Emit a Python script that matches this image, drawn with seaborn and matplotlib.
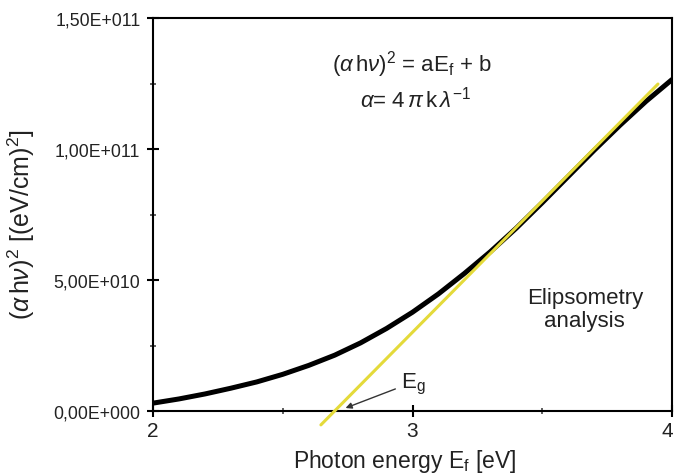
import matplotlib
matplotlib.use("Agg")
import matplotlib.pyplot as plt
import matplotlib.transforms as mtransforms
import seaborn as sns
import pandas as pd

# ---- data ----
energy = [2.0, 2.1, 2.2, 2.3, 2.4, 2.5, 2.6, 2.7, 2.8, 2.9, 3.0,
          3.1, 3.2, 3.3, 3.4, 3.5, 3.6, 3.7, 3.8, 3.9, 4.0]
absorb = [3.0e9, 4.6e9, 6.5e9, 8.7e9, 1.11e10, 1.40e10, 1.74e10, 2.13e10, 2.60e10,
          3.15e10, 3.77e10, 4.47e10, 5.25e10, 6.08e10, 6.98e10, 7.95e10, 8.95e10,
          9.95e10, 1.091e11, 1.182e11, 1.265e11]
fit_x = [2.647, 3.946]
fit_y = [-5.3e9, 1.248e11]
xticks = [2, 3, 4]
yticks = [0, 5e10, 1e11, 1.5e11]
ytick_labels = ["0,00E+000", "5,00E+010", "1,00E+011", "1,50E+011"]

sns.set_theme(style="ticks")
plt.rcParams['font.family'] = ['Liberation Sans', 'DejaVu Sans']
plt.rcParams['mathtext.fontset'] = 'custom'
plt.rcParams['mathtext.rm'] = 'Liberation Sans'
plt.rcParams['mathtext.it'] = 'Liberation Sans:italic'

fig = plt.figure(figsize=(6.76, 4.77), dpi=100)
ax = fig.add_axes([153/676, 65/477, 519/676, 393/477])

df = pd.DataFrame({"E": energy, "A": absorb})
dfit = pd.DataFrame({"E": fit_x, "A": fit_y})
sns.lineplot(data=df, x="E", y="A", ax=ax, color="black", lw=3.6, zorder=3)
ax.lines[-1].set_solid_joinstyle("round")
sns.lineplot(data=dfit, x="E", y="A", ax=ax, color="#e4da3a", lw=2.2, zorder=4)
ax.lines[-1].set_clip_on(False)

ax.set_xlim(2, 4)
ax.set_ylim(0, 1.5e11)
ax.set_xticks(xticks)
ax.set_xticklabels([str(t) for t in xticks])
ax.set_yticks(yticks)
ax.set_yticklabels(ytick_labels)
ax.set_xticks([2.5, 3.5], minor=True)
ax.set_yticks([2.5e10, 7.5e10, 1.25e11], minor=True)
ax.set_xlabel("")
ax.set_ylabel("")

for s in ax.spines.values():
    s.set_visible(True)
    s.set_linewidth(1.5)
    s.set_color("black")
ax.tick_params(axis="both", which="major", direction="inout", length=8, width=1.5,
               colors="black", labelsize=12.7, labelcolor="#222222")
ax.tick_params(axis="both", which="minor", direction="inout", length=4, width=1.2,
               colors="#444444")
ax.tick_params(axis="y", pad=5)
ax.tick_params(axis="x", pad=3)
xlabs = ax.get_xticklabels()
for lab in xlabs:
    lab.set_fontsize(15)
# keep the last tick label inside the canvas
xlabs[-1].set_transform(xlabs[-1].get_transform() +
                        mtransforms.ScaledTranslation(-5/100, 0, fig.dpi_scale_trans))

# annotations
ax.text(0.50, 0.883, r"($\alpha\,$h$\nu$)$^2$ = aE$_\mathrm{f}$ + b", transform=ax.transAxes,
        ha="center", va="center", fontsize=16, color="#222222")
ax.text(0.505, 0.794, r"$\alpha$= 4$\,\pi\,$k$\,\lambda^{-1}$", transform=ax.transAxes,
        ha="center", va="center", fontsize=16, color="#222222")
ax.text(0.832, 0.26, "Elipsometry\nanalysis", transform=ax.transAxes,
        ha="center", va="center", fontsize=16, color="#222222", linespacing=1.1)
ax.annotate("", xy=(2.732, 7.6e8), xytext=(2.944, 8.8e9),
            arrowprops=dict(arrowstyle="-|>", color="#333333", lw=1.0, mutation_scale=9))
ax.text(2.955, 1.05e10, r"E$_\mathrm{g}$", ha="left", va="center", fontsize=16, color="#222222")

fig.text(405/676, 1 - 462/477, r"Photon energy E$_\mathrm{f}$ [eV]", ha="center",
         va="center", fontsize=16.5, color="#222222")
fig.text(21/676, 1 - 225/477, r"($\alpha\,$h$\nu$)$^2$ [(eV/cm)$^2$]", ha="center",
         va="center", rotation=90, fontsize=18, color="#222222")

fig.savefig("out.png", dpi=100, facecolor="white")
